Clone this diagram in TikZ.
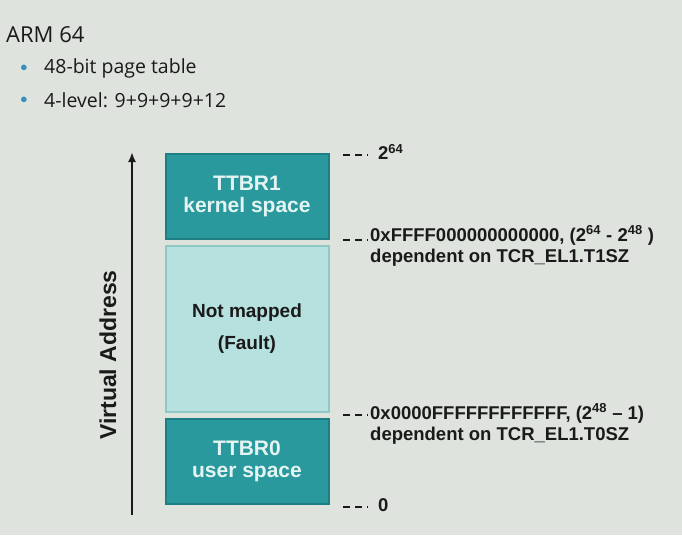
\documentclass[tikz,border=0pt]{standalone}
\usepackage{fontspec}
\usetikzlibrary{arrows.meta}
\setmainfont{Liberation Sans}
\newfontfamily\titlefont{Open Sans}
\definecolor{bg}{HTML}{DEE3DE}
\definecolor{teal}{HTML}{2A999D}
\definecolor{tealdark}{HTML}{1E7F83}
\definecolor{light}{HTML}{B6E1DF}
\definecolor{lightdark}{HTML}{8FC8C6}
\definecolor{boxtxt}{HTML}{E4F4F3}
\definecolor{bullet}{HTML}{3A8FC0}
\definecolor{ink}{HTML}{1A1A1A}
\tikzset{
  memdark/.style={draw=tealdark,line width=2pt,fill=teal,minimum width=163pt,inner sep=0pt,text=boxtxt,font=\fontsize{21}{22}\selectfont\bfseries,align=center},
  memlight/.style={draw=lightdark,line width=2pt,fill=light,minimum width=163pt,inner sep=0pt,text=ink,font=\fontsize{19}{32}\selectfont\bfseries,align=center},
  lbl/.style={anchor=west,text=ink,font=\fontsize{18.5}{21}\selectfont\bfseries,align=left,inner sep=0pt},
  tick/.style={dashed,dash pattern=on 7pt off 5pt,line width=1.5pt,ink},
  bul/.style={anchor=west,font=\titlefont\fontsize{19.5}{21}\selectfont,text=ink,inner sep=0pt}
}
\begin{document}
\begin{tikzpicture}[x=1pt,y=-1pt]
\fill[bg] (0,0) rectangle (682,535);
\useasboundingbox (0,0) rectangle (682,535);
\node[anchor=west,inner sep=0pt,font=\titlefont\fontsize{22}{24}\selectfont,text=ink] (title) at (6,35) {ARM 64};
\node[bul] (b1) at (44,68) {48-bit page table};
\node[bul] (b2) at (44,100) {4-level: 9+9+9+9+12};
\node[text=bullet,font=\fontsize{14}{14}\selectfont,inner sep=0pt] (d1) at (24,68) {$\bullet$};
\node[text=bullet,font=\fontsize{14}{14}\selectfont,inner sep=0pt] (d2) at (24,100) {$\bullet$};
\node[memdark,minimum height=85pt] (k) at (247,196) {TTBR1\\kernel space};
\node[memlight,minimum height=166pt] (n) at (247,329) {Not mapped\\(Fault)};
\node[memdark,minimum height=85pt] (u) at (247,461) {TTBR0\\user space};
\coordinate (abot) at (132,515);
\coordinate (atop) at (132,152);
\draw[line width=2.5pt,ink,-{Latex[length=10pt,width=8pt]}] (abot) -- (atop);
\node[rotate=90,font=\fontsize{23}{25}\selectfont\bfseries,text=ink] (va) at (108,355) {Virtual Address};
\coordinate (t1) at (343,155);
\coordinate (t2) at (343,240);
\coordinate (t3) at (343,415);
\coordinate (t4) at (343,507);
\draw[tick] (t1) -- ++(25,0);
\draw[tick] (t2) -- ++(25,0);
\draw[tick] (t3) -- ++(25,0);
\draw[tick] (t4) -- ++(25,0);
\node[lbl] (l1) at (378,152) {2\textsuperscript{64}};
\node[lbl] (l2) at (370,246) {0xFFFF000000000000, (2\textsuperscript{64} - 2\textsuperscript{48} )\\dependent on TCR\_EL1.T1SZ};
\node[lbl] (l3) at (370,424) {0x0000FFFFFFFFFFFF, (2\textsuperscript{48} -- 1)\\dependent on TCR\_EL1.T0SZ};
\node[lbl] (l4) at (378,505) {0};
\end{tikzpicture}
\end{document}
